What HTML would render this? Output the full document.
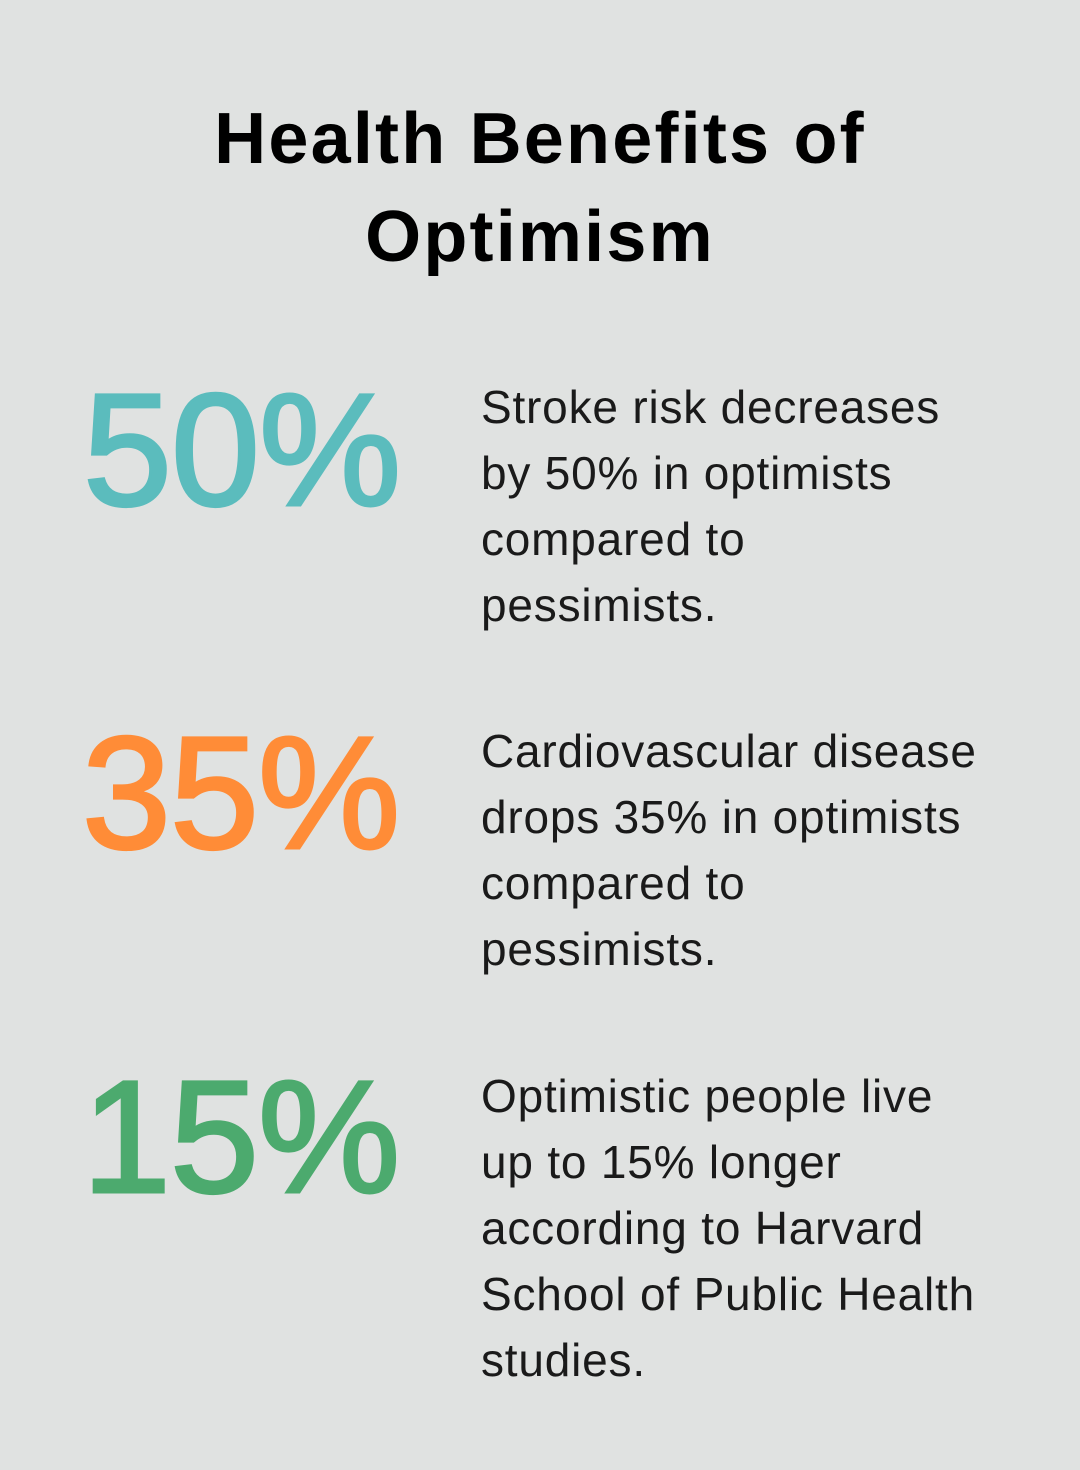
<!DOCTYPE html>
<html>
<head>
<meta charset="utf-8">
<style>
  html, body { margin:0; padding:0; }
  body { width:1080px; height:1470px; background:#e0e2e1; position:relative; overflow:hidden; font-family:"Liberation Sans", sans-serif; }
  .title { position:absolute; left:0; top:90px; width:1080px; text-align:center; font-weight:bold; font-size:72px; line-height:98px; letter-spacing:2.2px; color:#000; }
  .num { position:absolute; left:82px; font-size:160px; line-height:160px; white-space:nowrap; -webkit-text-stroke-width:3px; letter-spacing:-1px; }
  .desc { position:absolute; left:481px; font-size:46px; line-height:66px; letter-spacing:0.8px; color:#1a1a1a; white-space:nowrap; }
</style>
</head>
<body>
  <div class="title">Health Benefits of<br>Optimism</div>

  <div class="num" style="top:370px; left:83px; color:#5bbcbd; -webkit-text-stroke-color:#5bbcbd;">50%</div>
  <div class="desc" style="top:374px;">Stroke risk decreases<br>by 50% in optimists<br>compared to<br>pessimists.</div>

  <div class="num" style="top:713px; color:#ff8c37; -webkit-text-stroke-color:#ff8c37;">35%</div>
  <div class="desc" style="top:718px;">Cardiovascular disease<br>drops 35% in optimists<br>compared to<br>pessimists.</div>

  <div class="num" style="top:1057px; color:#4caa6e; -webkit-text-stroke-color:#4caa6e;">15%</div>
  <div class="desc" style="top:1063px;">Optimistic people live<br>up to 15% longer<br>according to Harvard<br>School of Public Health<br>studies.</div>
</body>
</html>
